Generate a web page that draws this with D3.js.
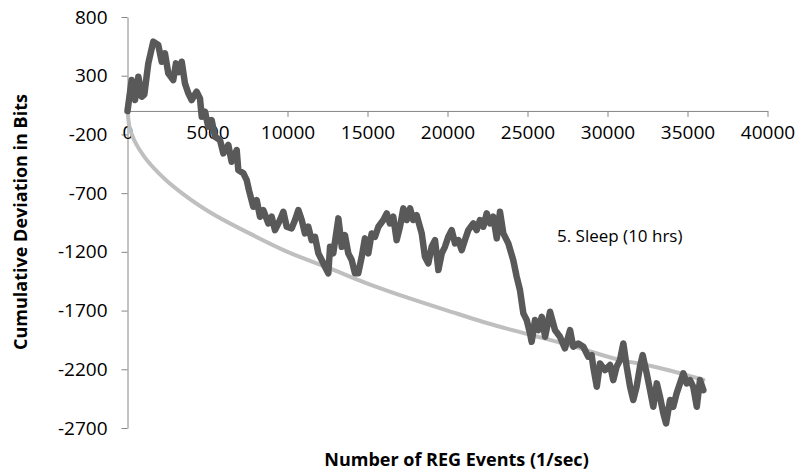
<!DOCTYPE html>
<html>
<head>
<meta charset="utf-8">
<script src="https://cdn.jsdelivr.net/npm/d3@7"></script>
<style>
  html, body { margin: 0; padding: 0; background: #fff; }
  svg { display: block; }
  text { font-family: "Open Sans", "DejaVu Sans", sans-serif; fill: #000; }
</style>
</head>
<body>
<svg id="chart" width="796" height="471"></svg>
<script>
// Cumulative deviation of REG output over a 10-hour sleep session
const eventCounts = [
  0, 260, 470, 680, 890, 1050, 1300, 1610, 1925, 2140, 2340, 2550, 2860, 3030, 3200, 3390,
  3590, 3800, 4010, 4320, 4530, 4640, 4840, 5050, 5260, 5470, 5780, 5990, 6300, 6510, 6825,
  6925, 7240, 7450, 7600, 7860, 8075, 8280, 8490, 8800, 9010, 9220, 9530, 9740, 9950, 10260,
  10470, 10680, 10890, 11090, 11300, 11510, 11720, 11930, 12140, 12340, 12550, 12660, 12860,
  13180, 13390, 13590, 13800, 14010, 14220, 14420, 14640, 14840, 15050, 15260, 15470, 15680,
  15990, 16200, 16400, 16610, 16820, 17030, 17240, 17450, 17660, 17860, 18070, 18390, 18590,
  18800, 19010, 19220, 19430, 19640, 19840, 20050, 20260, 20470, 20680, 20890, 21090, 21300,
  21610, 21820, 22030, 22240, 22450, 22660, 22860, 23080, 23280, 23490, 23800, 24110, 24320,
  24530, 24740, 24950, 25160, 25260, 25470, 25680, 25890, 26100, 26410, 26720, 27030, 27340,
  27660, 27860, 28170, 28490, 28800, 29010, 29110, 29330, 29530, 29840, 30160, 30360, 30570,
  30780, 30990, 31200, 31410, 31610, 31820, 32030, 32200, 32450, 32660, 32860, 33080, 33280,
  33490, 33660, 33910, 34110, 34320, 34530, 34740, 34950, 35160, 35360, 35580, 35780, 35990
];
const cumulativeDeviation = [
  0, 263, 93, 291, 121, 140, 405, 590, 561, 419, 490, 320, 263, 405, 330, 419,
  235, 150, 93, 164, 107, -49, -7, -134, -78, -220, -248, -361, -290, -433, -333,
  -503, -531, -589, -680, -816, -759, -901, -844, -958, -901, -1015, -929, -859, -986, -1000,
  -929, -844, -929, -1043, -986, -1100, -1072, -1213, -1270, -1327, -1383, -1157, -1213,
  -915, -1157, -1057, -1213, -1270, -1383, -1383, -1242, -1085, -1213, -1043, -1072, -986,
  -929, -872, -958, -901, -1100, -986, -830, -929, -830, -929, -887, -1043, -1242,
  -1298, -1157, -1100, -1355, -1213, -1157, -1072, -1015, -1128, -1100, -1185, -1100, -1015,
  -958, -1015, -929, -986, -872, -958, -901, -1085, -859, -1043, -1128, -1270, -1410,
  -1526, -1724, -1781, -1894, -1966, -1781, -1866, -1753, -1923, -1710, -1866, -1923, -2022,
  -1866, -2008, -1980, -2008, -2093, -2080, -2179, -2349, -2150, -2207, -2164, -2292, -2179,
  -2122, -1980, -2179, -2349, -2462, -2349, -2179, -2079, -2235, -2377, -2519, -2320, -2434,
  -2576, -2661, -2462, -2519, -2405, -2320, -2235, -2320, -2292, -2349, -2519, -2292, -2377
];

// Significance reference curve
const refCounts = [0, 100, 300, 600, 1000, 1500, 2430, 3500, 5000, 7656, 10000, 12450,
  15000, 17500, 20000, 23280, 25000, 27500, 30780, 33000, 36000];
const refDeviation = [0, -120, -210, -295, -380, -465, -592, -710, -850, -1045, -1200, -1330,
  -1470, -1590, -1700, -1838, -1900, -1990, -2120, -2180, -2290];

const xTicks = [0, 5000, 10000, 15000, 20000, 25000, 30000, 35000, 40000];
const yTicks = [800, 300, -200, -700, -1200, -1700, -2200, -2700];

const seriesLabel = "5. Sleep (10 hrs)";
const xTitle = "Number of REG Events (1/sec)";
const yTitle = "Cumulative Deviation in Bits";

const svg = d3.select("#chart");
const axisColor = "#868686";
const plainNumber = d => String(d);

const x = d3.scaleLinear().domain([0, 40000]).range([127.5, 767.5]);
const y = d3.scaleLinear().domain([-2700, 800]).range([428, 17]);

// Y axis
const yAxis = svg.append("g")
  .attr("transform", `translate(${x(0)},0)`)
  .call(d3.axisLeft(y).tickValues(yTicks).tickSize(6).tickSizeOuter(0).tickPadding(14)
    .tickFormat(plainNumber));
yAxis.select(".domain").attr("stroke", axisColor);
yAxis.selectAll(".tick line").attr("stroke", axisColor);
yAxis.selectAll(".tick text")
  .style("font-family", "'Open Sans', sans-serif")
  .style("font-size", "19px").attr("fill", "#000");

// X axis across the zero line
const xAxis = svg.append("g")
  .attr("transform", `translate(0,${y(0)})`)
  .call(d3.axisBottom(x).tickValues(xTicks).tickSize(6).tickSizeOuter(0).tickPadding(9)
    .tickFormat(plainNumber));
xAxis.select(".domain").attr("stroke", axisColor);
xAxis.selectAll(".tick line").attr("stroke", axisColor);
xAxis.selectAll(".tick text")
  .style("font-family", "'Open Sans', sans-serif")
  .style("font-size", "19px").attr("fill", "#000");

// Reference curve
const refLine = d3.line()
  .x((d, i) => x(refCounts[i]))
  .y(d => y(d))
  .curve(d3.curveMonotoneX);
svg.append("path")
  .datum(refDeviation)
  .attr("d", refLine)
  .attr("fill", "none")
  .attr("stroke", "#bfbfbf")
  .attr("stroke-width", 4)
  .attr("stroke-linecap", "round");

// Cumulative deviation trace
const devLine = d3.line()
  .x((d, i) => x(eventCounts[i]))
  .y(d => y(d));
svg.append("path")
  .datum(cumulativeDeviation)
  .attr("d", devLine)
  .attr("fill", "none")
  .attr("stroke", "#595959")
  .attr("stroke-width", 6.5)
  .attr("stroke-linejoin", "round")
  .attr("stroke-linecap", "round");

// Series annotation
svg.append("text")
  .attr("x", 557).attr("y", 241.5)
  .style("font-size", "17px")
  .text(seriesLabel);

// Axis titles
svg.append("text")
  .attr("x", 456.5).attr("y", 465.5)
  .attr("text-anchor", "middle")
  .style("font-size", "18px").style("font-weight", "bold")
  .text(xTitle);

svg.append("text")
  .attr("transform", "translate(27,222) rotate(-90)")
  .attr("text-anchor", "middle")
  .style("font-size", "18px").style("font-weight", "bold")
  .text(yTitle);
</script>
</body>
</html>
